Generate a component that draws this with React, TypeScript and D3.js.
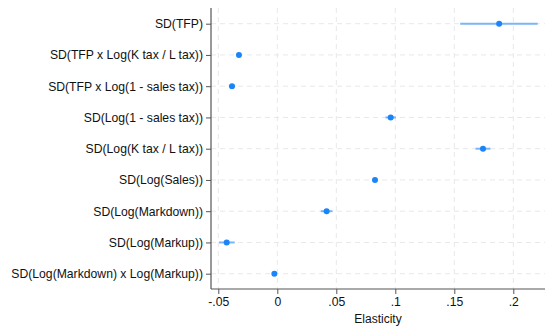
import React, { useEffect, useRef } from 'react';
import * as d3 from 'd3';

const labels = [
  'SD(TFP)',
  'SD(TFP x Log(K tax / L tax))',
  'SD(TFP x Log(1 - sales tax))',
  'SD(Log(1 - sales tax))',
  'SD(Log(K tax / L tax))',
  'SD(Log(Sales))',
  'SD(Log(Markdown))',
  'SD(Log(Markup))',
  'SD(Log(Markdown) x Log(Markup))',
];
const estimates = [0.188, -0.0325, -0.0384, 0.0961, 0.1743, 0.0828, 0.0418, -0.0429, -0.0025];
const lower = [0.155, -0.0335, -0.041, 0.0917, 0.168, 0.0818, 0.0368, -0.0494, -0.0035];
const upper = [0.2207, -0.0315, -0.0358, 0.1005, 0.1806, 0.0838, 0.0468, -0.0361, -0.0015];
const xTicks = [-0.05, 0, 0.05, 0.1, 0.15, 0.2];
const xTickLabels = ['-.05', '0', '.05', '.1', '.15', '.2'];

const W = 545;
const H = 329;

const App = () => {
  const svgRef = useRef<SVGSVGElement>(null);

  useEffect(() => {
    const svg = d3.select(svgRef.current);
    svg.selectAll('*').remove();

    const left = 211, right = 545, top = 8, bottom = 289;

    const x = d3.scaleLinear().domain([-0.05, 0.2]).range([218.3, 513.3]);
    const y = d3.scalePoint<string>().domain(labels).range([23.7, 273.7]);

    const g = svg.append('g');

    // grid
    g.selectAll('.vgrid')
      .data(xTicks)
      .join('line')
      .attr('x1', d => x(d)).attr('x2', d => x(d))
      .attr('y1', top).attr('y2', bottom)
      .attr('stroke', '#e8e8e8').attr('stroke-width', 1)
      .attr('stroke-dasharray', '5,4');
    g.selectAll('.hgrid')
      .data(labels)
      .join('line')
      .attr('x1', left).attr('x2', right)
      .attr('y1', d => y(d)!).attr('y2', d => y(d)!)
      .attr('stroke', '#e8e8e8').attr('stroke-width', 1)
      .attr('stroke-dasharray', '5,4');

    // axes
    const yAxis = d3.axisLeft(y).tickSize(5).tickPadding(3);
    const ya = g.append('g').attr('transform', `translate(${left},0)`).call(yAxis);
    ya.select('.domain').attr('d', `M0,${top}V${bottom}`).attr('stroke', '#555').attr('stroke-width', 1.2);
    ya.selectAll('.tick line').attr('stroke', '#555');
    ya.selectAll('.tick text')
      .attr('font-family', 'Liberation Sans, Arial, sans-serif')
      .attr('font-size', 12.2).attr('fill', '#111');

    const xAxis = d3.axisBottom(x).tickValues(xTicks).tickSize(5).tickPadding(3)
      .tickFormat((d, i) => xTickLabels[i]);
    const xa = g.append('g').attr('transform', `translate(0,${bottom})`).call(xAxis);
    xa.select('.domain').attr('d', `M${left},0H${right}`).attr('stroke', '#555').attr('stroke-width', 1.2);
    xa.selectAll('.tick line').attr('stroke', '#555');
    xa.selectAll('.tick text')
      .attr('font-family', 'Liberation Sans, Arial, sans-serif')
      .attr('font-size', 12.2).attr('fill', '#111');

    g.append('text')
      .attr('x', 378)
      .attr('y', 323)
      .attr('text-anchor', 'middle')
      .attr('font-family', 'Liberation Sans, Arial, sans-serif')
      .attr('font-size', 12).attr('fill', '#111')
      .text('Elasticity');

    // CIs
    g.selectAll('.ci')
      .data(labels)
      .join('line')
      .attr('x1', (d, i) => x(lower[i])).attr('x2', (d, i) => x(upper[i]))
      .attr('y1', d => y(d)!).attr('y2', d => y(d)!)
      .attr('stroke', '#7ab6f7').attr('stroke-width', 2);

    // points
    g.selectAll('.pt')
      .data(labels)
      .join('circle')
      .attr('cx', (d, i) => x(estimates[i]))
      .attr('cy', d => y(d)!)
      .attr('r', 3)
      .attr('fill', '#1a85f8');
  }, []);

  return (
    <svg ref={svgRef} width={W} height={H}
      style={{ position: 'absolute', left: 0, top: 0, background: '#fff' }} />
  );
};

export default App;
